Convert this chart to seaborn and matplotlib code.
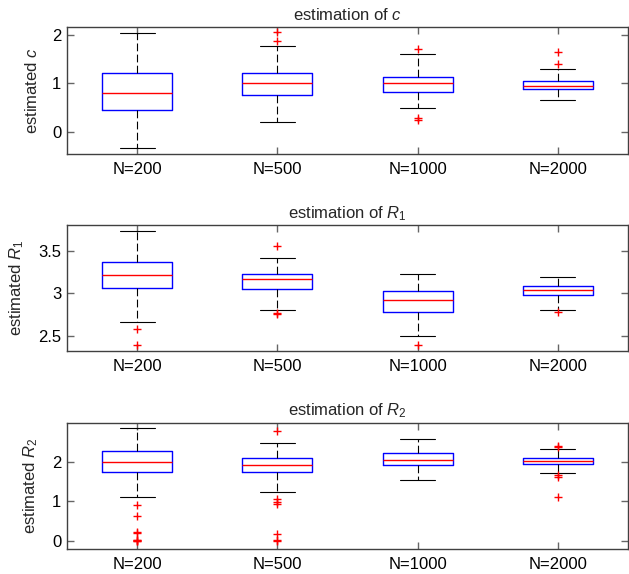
import matplotlib
matplotlib.use("Agg")
import matplotlib.pyplot as plt
import seaborn as sns
from matplotlib.ticker import FormatStrFormatter

# sample sizes on the x axis
groups = ["N=200", "N=500", "N=1000", "N=2000"]

# estimation of c: box summaries
c_med = [0.80, 1.00, 1.01, 0.95]
c_q1 = [0.46, 0.77, 0.83, 0.88]
c_q3 = [1.21, 1.21, 1.14, 1.06]
c_lo = [-0.33, 0.21, 0.50, 0.66]
c_hi = [2.04, 1.78, 1.61, 1.30]
c_out = [[], [2.06, 1.87], [1.71, 0.28, 0.24], [1.66, 1.40]]

# estimation of R1
r1_med = [3.22, 3.165, 2.925, 3.04]
r1_q1 = [3.063, 3.051, 2.784, 2.976]
r1_q3 = [3.365, 3.231, 3.024, 3.09]
r1_lo = [2.667, 2.804, 2.498, 2.804]
r1_hi = [3.73, 3.416, 3.224, 3.188]
r1_out = [[2.576, 2.388], [3.557, 2.77, 2.76], [2.388], [2.776]]

# estimation of R2
r2_med = [1.99, 1.915, 2.04, 2.025]
r2_q1 = [1.746, 1.737, 1.93, 1.94]
r2_q3 = [2.271, 2.10, 2.22, 2.11]
r2_lo = [1.10, 1.237, 1.55, 1.71]
r2_hi = [2.856, 2.49, 2.576, 2.33]
r2_out = [[0.91, 0.64, 0.23, 0.19, 0.03, 0.01, 0.0, -0.01],
          [2.80, 1.07, 0.98, 0.93, 0.16, 0.03, -0.02],
          [],
          [2.42, 2.39, 1.67, 1.63, 1.12]]

sns.set_theme(style="ticks")
plt.rcParams['font.family'] = ['Liberation Sans', 'DejaVu Sans']
plt.rcParams['mathtext.fontset'] = 'custom'
plt.rcParams['mathtext.rm'] = 'Liberation Sans'
plt.rcParams['mathtext.it'] = 'Liberation Sans:italic'
plt.rcParams['font.size'] = 12
plt.rcParams['xtick.labelsize'] = 12
plt.rcParams['ytick.labelsize'] = 12
plt.rcParams['xtick.direction'] = 'in'
plt.rcParams['ytick.direction'] = 'in'
plt.rcParams['xtick.major.pad'] = 6
plt.rcParams['ytick.major.pad'] = 4


def box_stats(lo, q1, med, q3, hi, out):
    stats = []
    for i in range(len(groups)):
        stats.append({"whislo": lo[i], "q1": q1[i], "med": med[i], "q3": q3[i],
                      "whishi": hi[i], "fliers": out[i], "label": groups[i]})
    return stats


def draw_panel(ax, stats, name, ylim, yticks):
    ax.bxp(stats, positions=range(1, len(groups) + 1), widths=0.5,
           boxprops=dict(color="#0000ff", linewidth=1.0),
           medianprops=dict(color="#ff0000", linewidth=1.0),
           whiskerprops=dict(color="black", linewidth=0.8, linestyle=(0, (7, 3))),
           capprops=dict(color="black", linewidth=0.8),
           flierprops=dict(marker="+", markeredgecolor="#ff0000", markersize=6,
                           markeredgewidth=1.0, linestyle="none"))
    ax.set_xlim(0.5, len(groups) + 0.5)
    ax.set_ylim(*ylim)
    ax.set_yticks(yticks)
    ax.yaxis.set_major_formatter(FormatStrFormatter('%g'))
    ax.set_xticks(range(1, len(groups) + 1))
    ax.set_xticklabels(groups)
    ax.set_title("estimation of " + name, fontsize=12, pad=5)
    ax.set_ylabel("estimated " + name, fontsize=12, labelpad=9)
    ax.tick_params(top=True, right=True, length=5, width=1.0, color="#666666",
                   labelcolor="black")
    for sp in ax.spines.values():
        sp.set_color("#404040")
        sp.set_linewidth(1.0)
    ax.set_facecolor("white")


fig = plt.figure(figsize=(6.29, 5.74), dpi=100)
left, width = 0.1065, 0.892
ax1 = fig.add_axes([left, 0.7317, width, 0.2213])
ax2 = fig.add_axes([left, 0.3885, width, 0.219])
ax3 = fig.add_axes([left, 0.0436, width, 0.22])

draw_panel(ax1, box_stats(c_lo, c_q1, c_med, c_q3, c_hi, c_out), "$c$",
           (-0.46, 2.17), [0, 1, 2])
draw_panel(ax2, box_stats(r1_lo, r1_q1, r1_med, r1_q3, r1_hi, r1_out), "$R_1$",
           (2.32, 3.80), [2.5, 3, 3.5])
draw_panel(ax3, box_stats(r2_lo, r2_q1, r2_med, r2_q3, r2_hi, r2_out), "$R_2$",
           (-0.21, 3.0), [0, 1, 2])

fig.savefig("out.png", dpi=100)
